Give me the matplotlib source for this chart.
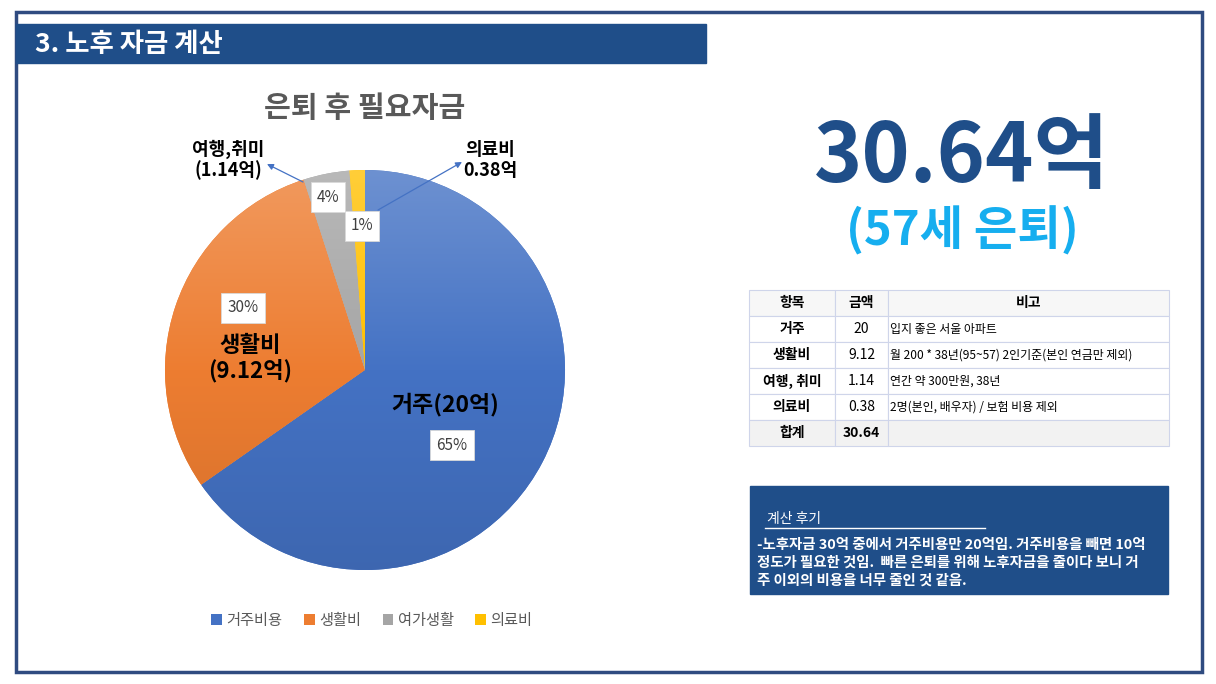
import matplotlib.pyplot as plt
import numpy as np
from matplotlib.patches import Rectangle
from matplotlib.colors import LinearSegmentedColormap, to_rgb

plt.rcParams['font.family'] = ['Noto Sans CJK KR', 'DejaVu Sans']

# 데이터
legend_labels = ['거주비용', '생활비', '여가생활', '의료비']
amounts = [20, 9.12, 1.14, 0.38]
slice_labels = ['거주(20억)', '생활비\n(9.12억)', '여행,취미\n(1.14억)', '의료비\n0.38억']
colors = ['#4472C4', '#ED7D31', '#A5A5A5', '#FFC000']
total_text = '30.64억'
sub_text = '(57세 은퇴)'

table_cols = ['항목', '금액', '비고']
table_rows = [
    ['거주', '20', '입지 좋은 서울 아파트'],
    ['생활비', '9.12', '월 200 * 38년(95~57) 2인기준(본인 연금만 제외)'],
    ['여행, 취미', '1.14', '연간 약 300만원, 38년'],
    ['의료비', '0.38', '2명(본인, 배우자) / 보험 비용 제외'],
    ['합계', '30.64', ''],
]
memo_title = '계산 후기'
memo_lines = [
    '-노후자금 30억 중에서 거주비용만 20억임. 거주비용을 빼면 10억',
    '정도가 필요한 것임.  빠른 은퇴를 위해 노후자금을 줄이다 보니 거',
    '주 이외의 비용을 너무 줄인 것 같음.',
]

W, H = 1216, 684
fig = plt.figure(figsize=(W / 100, H / 100), dpi=100)

# 배경 / 도형용 축 (픽셀 좌표)
bg = fig.add_axes([0, 0, 1, 1])
bg.set_xlim(0, W)
bg.set_ylim(H, 0)
bg.axis('off')

navy = '#1F4E89'
bg.add_patch(Rectangle((16, 12), 1186, 660, fill=False, ec='#2F4B80', lw=2.5))
bg.add_patch(Rectangle((16, 24), 690, 39, color=navy))
bg.text(35, 44, '3. 노후 자금 계산', color='white', fontsize=19, fontweight='bold', va='center')
bg.text(365, 108, '은퇴 후 필요자금', color='#595959', fontsize=21, fontweight='bold',
        ha='center', va='center')

bg.text(962, 158, total_text, color=navy, fontsize=59, fontweight='bold', ha='center', va='center')
bg.text(962, 231, sub_text, color='#16AEEF', fontsize=34, fontweight='bold', ha='center', va='center')

# 계산 후기 박스
bg.add_patch(Rectangle((750, 486), 418, 108, color=navy))
bg.text(767, 519, memo_title, color='white', fontsize=10, va='center')
bg.plot([765, 985], [528, 528], color='white', lw=1)
for i, line in enumerate(memo_lines):
    bg.text(757, 545 + i * 18, line, color='white', fontsize=10.4, fontweight='bold', va='center')

# 파이 차트
cx, cy, r = 365, 370, 200
ax = fig.add_axes([(cx - r) / W, 1 - (cy + r) / H, 2 * r / W, 2 * r / H])
wedges, texts, autotexts = ax.pie(amounts, colors=colors, startangle=90, counterclock=False,
                                  autopct='%1.0f%%', radius=1)
ax.axis('off')
ax.set_xlim(-1, 1)
ax.set_ylim(-1, 1)

# 그라데이션
grad = np.linspace(0, 1, 256).reshape(-1, 1)
for w, c in zip(wedges, colors):
    base = np.array(to_rgb(c))
    light = base + (1 - base) * 0.22
    dark = base * 0.9
    cmap = LinearSegmentedColormap.from_list('g', [dark, base, light])
    im = ax.imshow(grad, extent=[-1, 1, -1, 1], origin='lower', cmap=cmap, aspect='auto', zorder=1.5)
    im.set_clip_path(w)

pct_pos = [(0.435, -0.375), (-0.61, 0.31), (-0.185, 0.865), (-0.015, 0.72)]
for t, p in zip(autotexts, pct_pos):
    t.set_position(p)
    t.set_fontsize(11)
    t.set_color('#404040')
    t.set_ha('center')
    t.set_va('center')
    t.set_zorder(5)
    t.set_bbox(dict(boxstyle='square,pad=0.4', fc='white', ec='#D9D9D9', lw=0.6))

ax.text(0.40, -0.175, slice_labels[0], fontsize=16.5, fontweight='bold', ha='center', va='center', zorder=5)
ax.text(-0.575, 0.06, slice_labels[1], fontsize=16, fontweight='bold', ha='center', va='center',
        linespacing=1.1, zorder=5)
ax.text(-0.685, 1.05, slice_labels[2], fontsize=13, fontweight='bold', ha='center', va='center',
        linespacing=1.1, zorder=5)
ax.text(0.625, 1.05, slice_labels[3], fontsize=13, fontweight='bold', ha='center', va='center',
        linespacing=1.1, zorder=5)

arrow_kw = dict(arrowstyle='-|>', color='#4472C4', lw=0.9, shrinkA=0, shrinkB=0, mutation_scale=9)
ax.annotate('', xy=(-0.49, 1.03), xytext=(-0.31, 0.94), annotation_clip=False, arrowprops=arrow_kw)
ax.annotate('', xy=(0.485, 1.04), xytext=(0.065, 0.80), annotation_clip=False, arrowprops=arrow_kw)

leg = fig.legend(wedges, legend_labels, loc='center', bbox_to_anchor=(372 / W, 1 - 620 / H), ncol=4,
                 frameon=False, fontsize=11, handlelength=0.7, handleheight=0.7, handletextpad=0.3,
                 columnspacing=1.4, labelcolor='#595959')

# 표
tb_ax = fig.add_axes([749 / W, 1 - 446 / H, 420 / W, 156 / H])
tb_ax.axis('off')
tbl = tb_ax.table(cellText=table_rows, colLabels=table_cols, bbox=[0, 0, 1, 1],
                  colWidths=[86, 53, 281], cellLoc='center')
tbl.auto_set_font_size(False)
for (row, col), cell in tbl.get_celld().items():
    cell.set_edgecolor('#CFD5EA')
    cell.set_linewidth(0.8)
    txt = cell.get_text()
    txt.set_fontsize(10)
    if row == 0:
        cell.set_facecolor('#F7F7F7')
        txt.set_fontweight('bold')
    elif row == len(table_rows):
        cell.set_facecolor('#F2F2F2')
        if col < 2:
            txt.set_fontweight('bold')
    else:
        cell.set_facecolor('white')
        if col == 0:
            txt.set_fontweight('bold')
    if col == 2 and row > 0:
        txt.set_fontsize(8.6)
        txt.set_ha('left')
        cell.PAD = 0.006

fig.savefig('out.png', dpi=100)
